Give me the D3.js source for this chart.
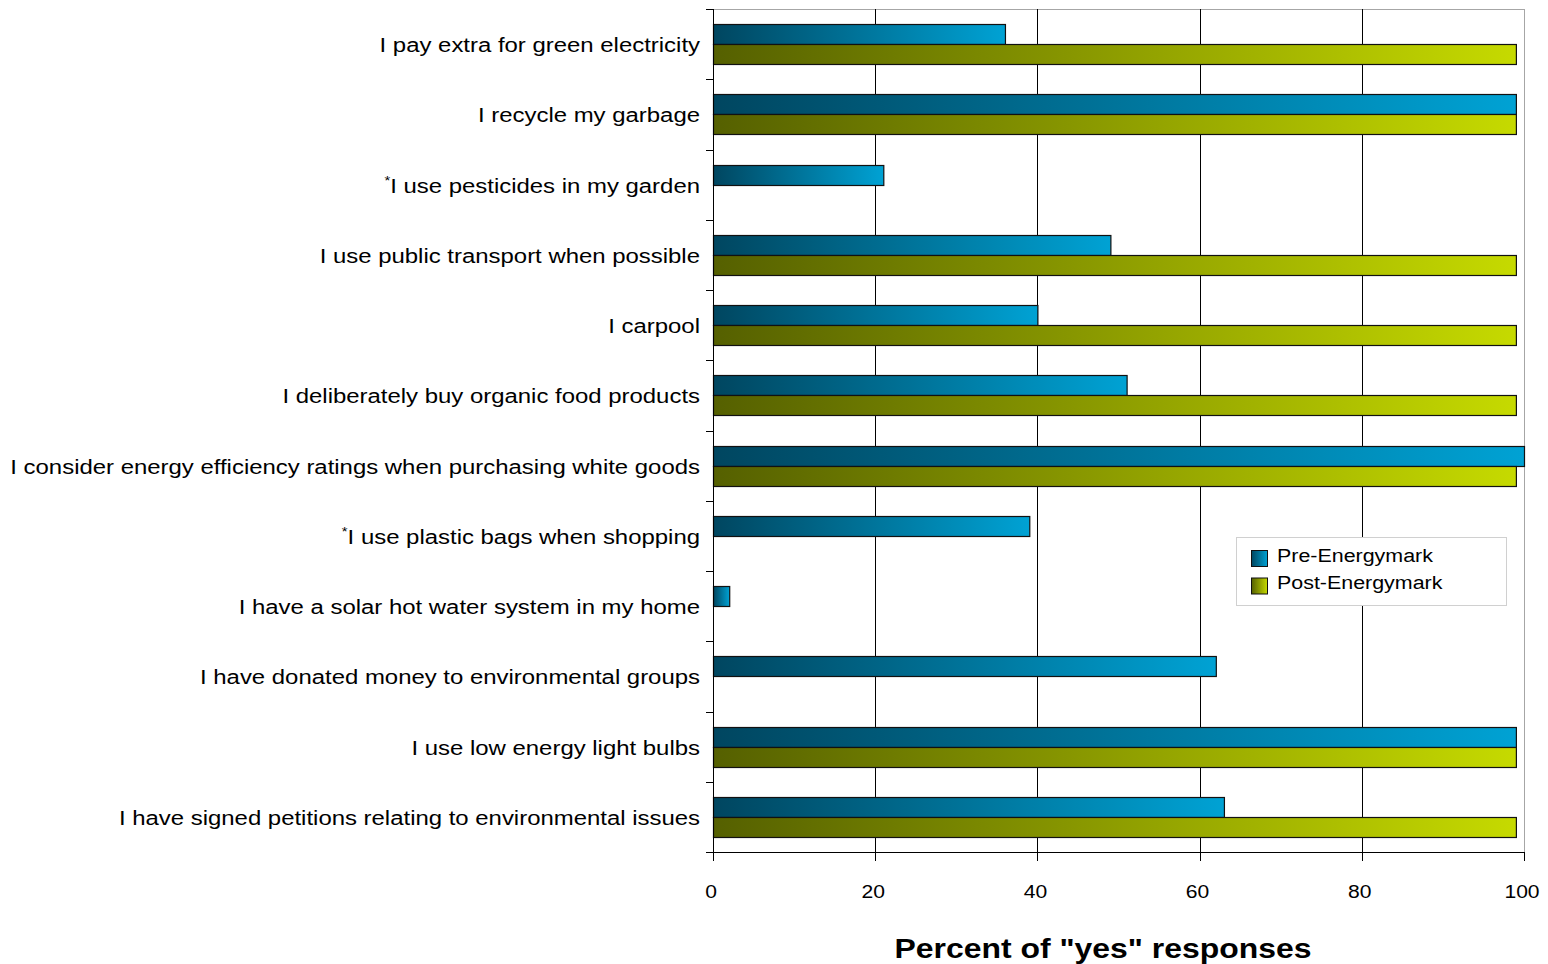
<!DOCTYPE html>
<html>
<head>
<meta charset="utf-8">
<script src="https://cdn.jsdelivr.net/npm/d3@7"></script>
<style>
  html, body { margin: 0; padding: 0; background: #fff; }
  svg { display: block; font-family: Arial, "Liberation Sans", sans-serif; }
</style>
</head>
<body>
<svg id="chart" width="1548" height="964"></svg>
<script>
// Survey statements (top to bottom); "*" marks a reverse-coded item
const categories = [
  "I pay extra for green electricity",
  "I recycle my garbage",
  "*I use pesticides in my garden",
  "I use public transport when possible",
  "I carpool",
  "I deliberately buy organic food products",
  "I consider energy efficiency ratings when purchasing white goods",
  "*I use plastic bags when shopping",
  "I have a solar hot water system in my home",
  "I have donated money to environmental groups",
  "I use low energy light bulbs",
  "I have signed petitions relating to environmental issues"
];
const seriesNames = ["Pre-Energymark", "Post-Energymark"];
const preValues  = [36, 99, 21, 49, 40, 51, 100, 39, 2, 62, 99, 63];
const postValues = [99, 99, null, 99, 99, 99, 99, null, null, null, 99, 99];
const xTicks = [0, 20, 40, 60, 80, 100];
const xTitle = 'Percent of "yes" responses';

const svg = d3.select("#chart");
const plot = { left: 713, right: 1524, top: 9, bottom: 852 };
const stretch = 1.14; // text is set slightly wide

// places a horizontally widened text element at (px, py)
function wideText(sel, px, py) {
  return sel.attr("x", 0).attr("y", 0)
    .attr("transform", `translate(${px},${py}) scale(${stretch},1)`);
}

const x = d3.scaleLinear().domain([0, 100]).range([plot.left, plot.right]);
const y = d3.scaleBand().domain(categories).range([plot.top, plot.bottom])
  .paddingInner(0.43).paddingOuter(0.215);
const ySub = d3.scaleBand().domain(seriesNames).range([0, y.bandwidth()]);

// Horizontal gradients, one per series, stretched across each bar
const defs = svg.append("defs");
const gradStops = {
  "Pre-Energymark":  ["#004660", "#00a2d4"],
  "Post-Energymark": ["#556000", "#c6da00"]
};
seriesNames.forEach((s, i) => {
  const g = defs.append("linearGradient").attr("id", "grad" + i)
    .attr("x1", "0%").attr("x2", "100%").attr("y1", "0%").attr("y2", "0%");
  g.append("stop").attr("offset", "0%").attr("stop-color", gradStops[s][0]);
  g.append("stop").attr("offset", "100%").attr("stop-color", gradStops[s][1]);
});

// Plot frame: grey top/right, gridlines
svg.append("line").attr("x1", plot.left).attr("x2", plot.right)
  .attr("y1", plot.top + 0.5).attr("y2", plot.top + 0.5).attr("stroke", "#a6a6a6");
svg.append("line").attr("x1", plot.right + 0.5).attr("x2", plot.right + 0.5)
  .attr("y1", plot.top).attr("y2", plot.bottom).attr("stroke", "#a6a6a6");
svg.append("g").selectAll("line").data(xTicks.filter(t => t > 0 && t < 100)).join("line")
  .attr("x1", d => Math.round(x(d)) + 0.5).attr("x2", d => Math.round(x(d)) + 0.5)
  .attr("y1", plot.top).attr("y2", plot.bottom).attr("stroke", "#000");

// Bars
const rows = categories.map((c, i) => ({ c, vals: [preValues[i], postValues[i]] }));
const barG = svg.append("g");
rows.forEach(r => {
  r.vals.forEach((v, si) => {
    if (v == null) return;
    barG.append("rect")
      .attr("x", x(0) + 0.5)
      .attr("y", Math.round(y(r.c) + ySub(seriesNames[si])) + 0.5)
      .attr("width", x(v) - x(0))
      .attr("height", Math.round(ySub.bandwidth()))
      .attr("fill", `url(#grad${si})`)
      .attr("stroke", "#111")
      .attr("stroke-width", 1.2);
  });
});

// Y axis: line + ticks at category boundaries
const yAxisG = svg.append("g");
yAxisG.append("line").attr("x1", plot.left + 0.5).attr("x2", plot.left + 0.5)
  .attr("y1", plot.top).attr("y2", plot.bottom + 8).attr("stroke", "#000");
const bounds = d3.range(categories.length + 1).map(i => plot.top + i * y.step());
yAxisG.selectAll("line.tick").data(bounds).join("line").attr("class", "tick")
  .attr("x1", plot.left - 7).attr("x2", plot.left)
  .attr("y1", d => Math.round(d) + 0.5).attr("y2", d => Math.round(d) + 0.5)
  .attr("stroke", "#000");

// Category labels
const labelG = svg.append("g").attr("font-size", 21).attr("fill", "#000");
categories.forEach(c => {
  const t = wideText(labelG.append("text"), 700, y(c) + y.bandwidth() / 2 + 8)
    .attr("text-anchor", "end");
  if (c.startsWith("*")) {
    t.append("tspan").attr("font-size", 13).attr("dy", -8).text("*");
    t.append("tspan").attr("dy", 8).text(c.slice(1));
  } else {
    t.text(c);
  }
});

// X axis
const xAxisG = svg.append("g");
xAxisG.append("line").attr("x1", plot.left).attr("x2", plot.right + 1)
  .attr("y1", plot.bottom + 0.5).attr("y2", plot.bottom + 0.5).attr("stroke", "#000");
xAxisG.selectAll("line.tick").data(xTicks).join("line").attr("class", "tick")
  .attr("x1", d => Math.round(x(d)) + 0.5).attr("x2", d => Math.round(x(d)) + 0.5)
  .attr("y1", plot.bottom).attr("y2", plot.bottom + 9).attr("stroke", "#000");
xAxisG.selectAll("text").data(xTicks).join("text")
  .each(function (d) { wideText(d3.select(this), x(d) - 2, 898); })
  .attr("text-anchor", "middle").attr("font-size", 18.5).text(d => d);

wideText(svg.append("text"), 1103, 958)
  .attr("text-anchor", "middle").attr("font-size", 28).attr("font-weight", "bold")
  .text(xTitle);

// Legend
const lg = svg.append("g");
lg.append("rect").attr("x", 1236.5).attr("y", 537.5).attr("width", 270).attr("height", 68)
  .attr("fill", "#fff").attr("stroke", "#d0d0d0");
seriesNames.forEach((s, i) => {
  lg.append("rect").attr("x", 1251.5).attr("y", 550.5 + i * 27.5)
    .attr("width", 16).attr("height", 16)
    .attr("fill", `url(#grad${i})`).attr("stroke", "#111");
  wideText(lg.append("text"), 1277, 562 + i * 26.5)
    .attr("font-size", 18.8).text(s);
});
</script>
</body>
</html>
